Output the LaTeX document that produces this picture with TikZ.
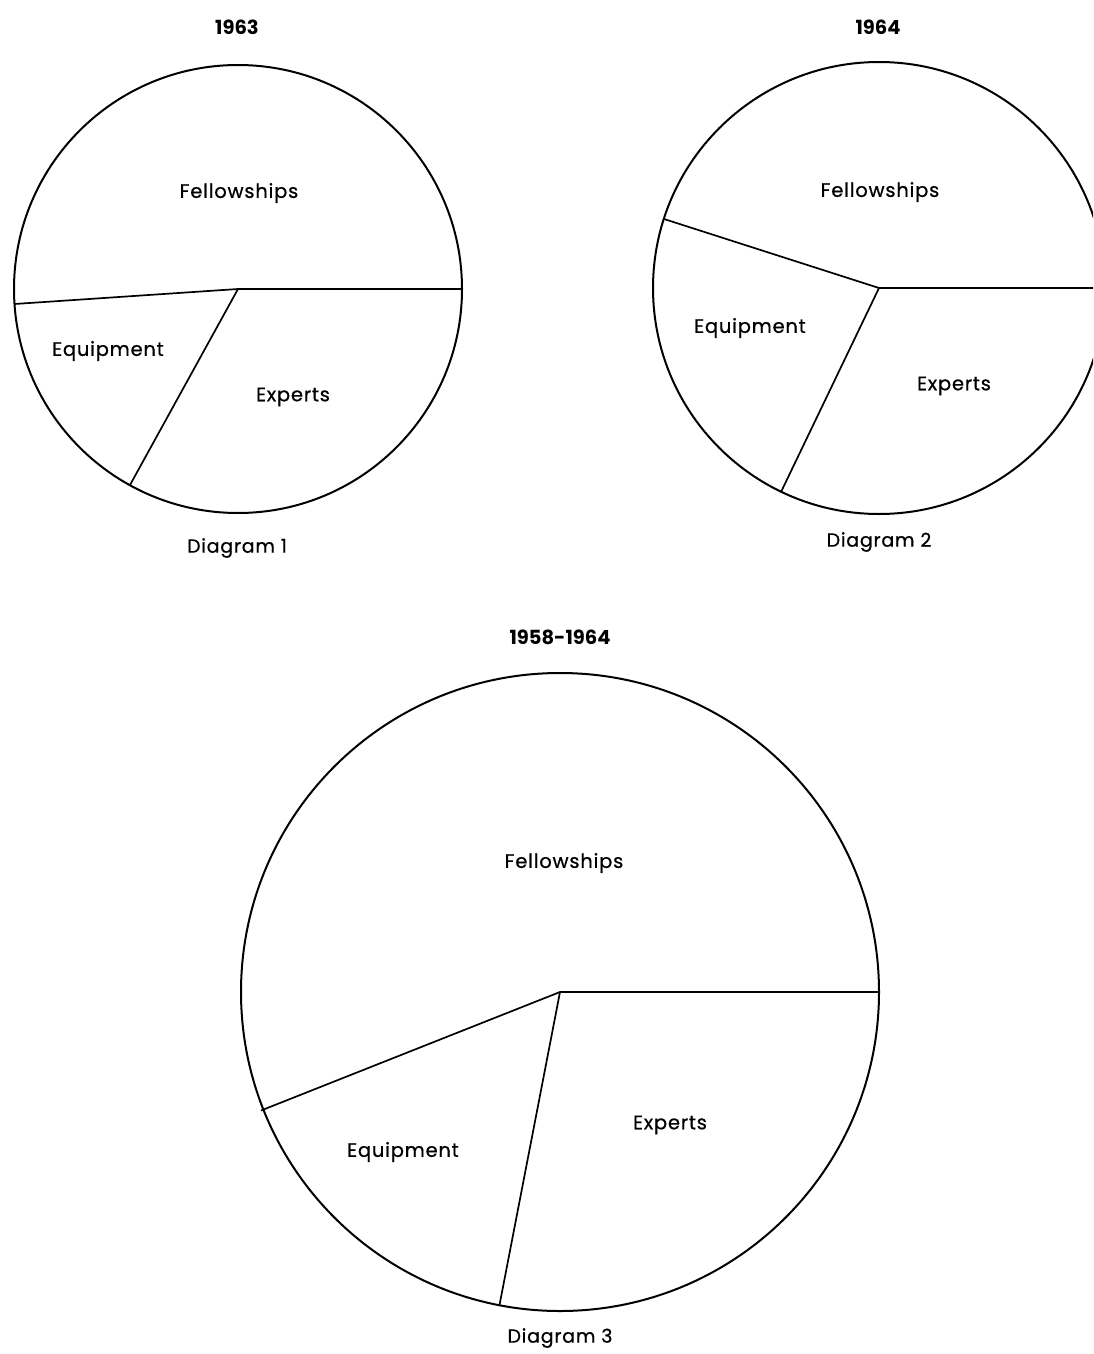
\documentclass[tikz,border=0pt]{standalone}
\usepackage{fontspec}
\setmainfont{Poppins}
\newfontfamily\lblfont{Poppins}[FakeBold=0.7,LetterSpace=4]
\begin{document}
\begin{tikzpicture}[x=1pt,y=-1pt,
  pie/.style={line width=2pt,black},
  seg/.style={line width=1.7pt,black},
  lbl/.style={font=\lblfont\fontsize{19.5}{22}\selectfont,inner sep=0pt},
  ttl/.style={font=\fontsize{19.5}{22}\selectfont\bfseries,inner sep=0pt},
  dcap/.style={font=\lblfont\fontsize{19}{22}\selectfont,inner sep=0pt}]
\useasboundingbox (0,0) rectangle (1093,1354);
\clip (0,0) rectangle (1093,1354);
% Diagram 1
\coordinate (c1) at (238,289);
\coordinate (a1) at (462,289);
\coordinate (b1) at (14.5,304);
\coordinate (d1) at (130,485);
\draw[pie] (c1) circle[radius=224];
\draw[seg] (b1) -- (c1) -- (a1);
\draw[seg] (c1) -- (d1);
\node[ttl] (t1) at (237,27) {1963};
\node[lbl] (f1) at (239,193) {Fellowships};
\node[lbl] (e1) at (108,351) {Equipment};
\node[lbl] (x1) at (293,397) {Experts};
\node[dcap] (g1) at (237,548) {Diagram 1};
% Diagram 2
\coordinate (c2) at (879,288);
\coordinate (a2) at (1105,288);
\coordinate (b2) at (664,219);
\coordinate (d2) at (781,492);
\draw[pie] (c2) circle[radius=226];
\draw[seg] (b2) -- (c2) -- (a2);
\draw[seg] (c2) -- (d2);
\node[ttl] (t2) at (878,27) {1964};
\node[lbl] (f2) at (880,192) {Fellowships};
\node[lbl] (e2) at (750,328) {Equipment};
\node[lbl] (x2) at (954,386) {Experts};
\node[dcap] (g2) at (879,542) {Diagram 2};
% Diagram 3
\coordinate (c3) at (560,992);
\coordinate (a3) at (879,992);
\coordinate (b3) at (261,1110.5);
\coordinate (d3) at (499.5,1305);
\draw[pie] (c3) circle[radius=319];
\draw[seg] (b3) -- (c3) -- (a3);
\draw[seg] (c3) -- (d3);
\node[ttl] (t3) at (560,637) {1958-1964};
\node[lbl] (f3) at (564,863) {Fellowships};
\node[lbl] (e3) at (403,1152) {Equipment};
\node[lbl] (x3) at (670,1125) {Experts};
\node[dcap] (g3) at (560,1338) {Diagram 3};
\end{tikzpicture}
\end{document}
